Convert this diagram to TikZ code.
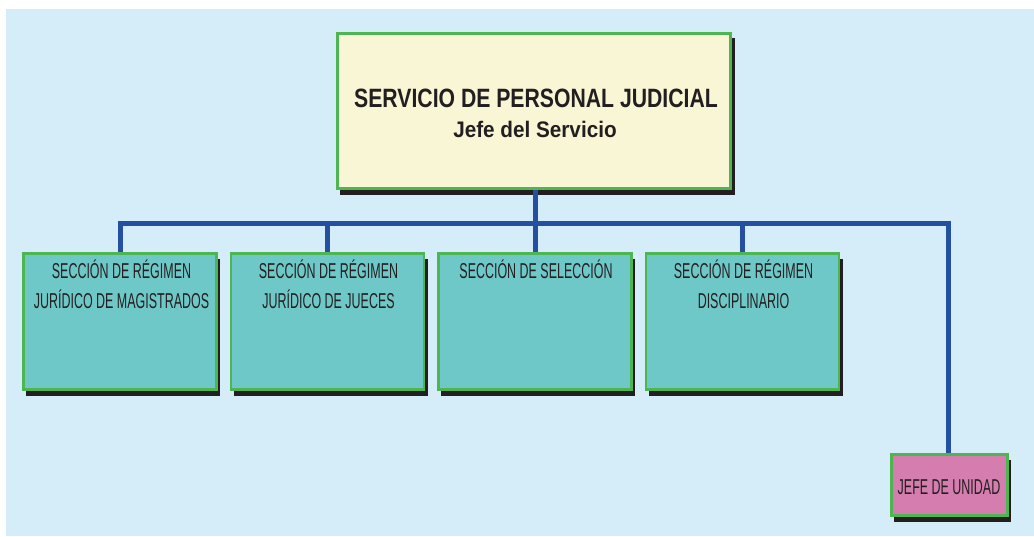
\documentclass[tikz,border=0pt]{standalone}
\usepackage{fontspec}
\setmainfont{Liberation Sans}
\newfontfamily\titlefont[FakeStretch=0.8]{Liberation Sans}
\newfontfamily\subfont[FakeStretch=0.92]{Liberation Sans}
\newfontfamily\narrowfont[FakeStretch=0.58]{Liberation Sans}
\definecolor{bgblue}{HTML}{D5ECF9}
\definecolor{cream}{HTML}{F8F6D4}
\definecolor{teal}{HTML}{6FC8C8}
\definecolor{pinkbox}{HTML}{D67DB0}
\definecolor{greenedge}{HTML}{4DB552}
\definecolor{linkblue}{HTML}{2350A0}
\definecolor{shadowc}{HTML}{231F20}
\definecolor{inkc}{HTML}{231F20}
\pgfdeclarelayer{bglayer}
\pgfsetlayers{bglayer,main}
\tikzset{
  x=1pt, y=-1pt,
  boxbase/.style={draw=greenedge, line width=2.5pt, inner sep=0pt, outer sep=0pt,
    text=inkc},
  mainbox/.style={boxbase, fill=cream, minimum width=393pt, minimum height=155pt},
  secbox/.style={boxbase, fill=teal, minimum width=193pt, minimum height=136pt},
  unitbox/.style={boxbase, fill=pinkbox, minimum width=116pt, minimum height=61pt},
  shade/.style={fill=shadowc, draw=none},
  link/.style={draw=linkblue, line width=5pt},
  sectext/.style={font=\narrowfont\fontsize{21.5}{30}\selectfont, align=center, anchor=base, text=inkc}
}
\begin{document}
\begin{tikzpicture}
\useasboundingbox (0,0) rectangle (1034,536);

% boxes
\node[mainbox] (main) at (534,111) {};
\node[secbox] (s1) at (120,321.5) {};
\node[secbox] (s2) at (327.5,321.5) {};
\node[secbox] (s3) at (535,321.5) {};
\node[secbox] (s4) at (742.5,321.5) {};
\node[unitbox] (u) at (949.5,485) {};

\coordinate (bus) at (535,223);
\coordinate (busL) at (120,223);
\coordinate (busR) at (948,223);

\begin{pgfonlayer}{bglayer}
\fill[bgblue] (6,9) rectangle (1034,536);
% shadows
\fill[shade] (340,38) rectangle (735,195);
\foreach \xl in {26,234,441,649}{
  \fill[shade] (\xl,259) rectangle (\xl+194,396);
}
\fill[shade] (894,460) rectangle (1011,522);
% connectors
\draw[link] (main.south -| bus) -- (bus);
\draw[link] (s1.north) -- (busL) -- (busR) -- (u.north -| busR);
\draw[link] (s2.north) -- (s2.north |- bus);
\draw[link] (s3.north) -- (s3.north |- bus);
\draw[link] (s4.north) -- (s4.north |- bus);
\end{pgfonlayer}

% texts
\node[font=\titlefont\bfseries\fontsize{26.5}{30}\selectfont, anchor=base, text=inkc] (t1) at (536,107) {SERVICIO DE PERSONAL JUDICIAL};
\node[font=\subfont\bfseries\fontsize{22.5}{26}\selectfont, anchor=base, text=inkc] (t2) at (535,137) {Jefe del Servicio};

\node[sectext] (l1) at (121.5,308) {SECCIÓN DE RÉGIMEN\\JURÍDICO DE MAGISTRADOS};
\node[sectext] (l2) at (328.5,308) {SECCIÓN DE RÉGIMEN\\JURÍDICO DE JUECES};
\node[sectext] (l3) at (536,278) {SECCIÓN DE SELECCIÓN};
\node[sectext] (l4) at (743.5,308) {SECCIÓN DE RÉGIMEN\\DISCIPLINARIO};
\node[font=\narrowfont\fontsize{21.5}{24}\selectfont, text=inkc, anchor=base] (lu) at (949,494) {JEFE DE UNIDAD};
\end{tikzpicture}
\end{document}
